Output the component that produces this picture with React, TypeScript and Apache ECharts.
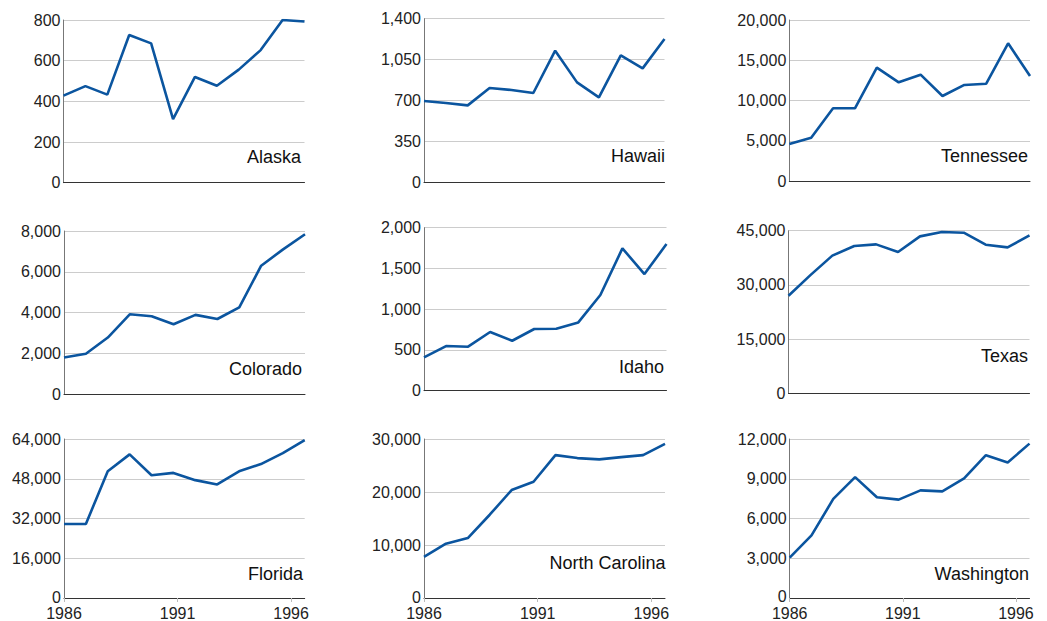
import React, { useEffect, useRef } from 'react';
import * as echarts from 'echarts';

const years = ['1986', '1987', '1988', '1989', '1990', '1991', '1992', '1993', '1994', '1995', '1996', '1997'];
const yearTicks = [1986, 1991, 1996];

const states = ['Alaska', 'Hawaii', 'Tennessee', 'Colorado', 'Idaho', 'Texas', 'Florida', 'North Carolina', 'Washington'];

const alaska = [428, 475, 433, 726, 685, 313, 520, 477, 556, 652, 800, 793];
const hawaii = [694, 677, 657, 806, 789, 763, 1126, 854, 726, 1086, 974, 1226];
const tennessee = [4600, 5380, 9030, 9030, 14080, 12260, 13210, 10560, 11930, 12090, 17100, 13040];
const colorado = [1800, 1990, 2780, 3920, 3820, 3430, 3890, 3690, 4260, 6300, 7100, 7840];
const idaho = [409, 548, 540, 720, 613, 757, 761, 838, 1174, 1746, 1431, 1800];
const texas = [27000, 32700, 38100, 40760, 41220, 39100, 43430, 44630, 44450, 41130, 40390, 43710];
const florida = [29800, 29800, 51000, 57800, 49400, 50350, 47440, 45700, 51000, 53900, 58300, 63500];
const northCarolina = [7760, 10250, 11300, 15710, 20370, 21930, 26960, 26400, 26150, 26580, 26960, 29070];
const washington = [3050, 4725, 7475, 9125, 7600, 7425, 8125, 8050, 9025, 10775, 10225, 11650];

const seriesData = [alaska, hawaii, tennessee, colorado, idaho, texas, florida, northCarolina, washington];
const yMax = [800, 1400, 20000, 8000, 2000, 45000, 64000, 30000, 12000];
const yStep = [200, 350, 5000, 2000, 500, 15000, 16000, 10000, 3000];
const zeroLabel = '0';

// layout (pixels)
const panels = [
  { left: 63.5, top: 20, width: 241, height: 162.7, lx: 301, ly: 157 },
  { left: 424, top: 18.7, width: 240.5, height: 163.3, lx: 665, ly: 156 },
  { left: 789.3, top: 20, width: 240.7, height: 161, lx: 1028, ly: 155.7 },
  { left: 64, top: 231, width: 241, height: 163.3, lx: 302, ly: 369 },
  { left: 424, top: 227.7, width: 242.5, height: 163, lx: 664, ly: 366.7 },
  { left: 788.5, top: 230.7, width: 241, height: 162.6, lx: 1028, ly: 355.7 },
  { left: 64, top: 439, width: 240.7, height: 161, lx: 303, ly: 573.7 },
  { left: 424, top: 439, width: 241, height: 161, lx: 665.5, ly: 563.3 },
  { left: 789.7, top: 439, width: 239.8, height: 160, lx: 1029, ly: 573.7 },
];

const FONT = '"Liberation Sans", Arial, sans-serif';
const LINE_COLOR = '#0b559f';

export default function App() {
  const ref = useRef<HTMLDivElement>(null);

  useEffect(() => {
    if (!ref.current) return;
    const chart = echarts.init(ref.current, undefined, { renderer: 'svg' });

    const grid: any[] = [];
    const xAxis: any[] = [];
    const yAxis: any[] = [];
    const series: any[] = [];
    const graphic: any[] = [];

    panels.forEach((p, i) => {
      const bottomRow = i >= 6;
      grid.push({ left: p.left, top: p.top, width: p.width, height: p.height, containLabel: false });
      xAxis.push({
        type: 'category',
        gridIndex: i,
        data: years,
        boundaryGap: false,
        show: false,
      });
      xAxis.push({
        type: 'value',
        gridIndex: i,
        min: 1986,
        max: 1996.6,
        position: 'bottom',
        axisLine: { show: true, onZero: false, lineStyle: { color: '#333', width: 1 } },
        axisTick: {
          show: bottomRow,
          customValues: yearTicks,
          length: 4,
          lineStyle: { color: '#bbb' },
        },
        axisLabel: {
          show: bottomRow,
          customValues: yearTicks,
          formatter: (v: number) => String(v),
          fontSize: 16,
          lineHeight: 12,
          fontFamily: FONT,
          color: '#222',
          margin: 9,
        },
        splitLine: { show: false },
      });
      yAxis.push({
        type: 'value',
        gridIndex: i,
        min: 0,
        max: yMax[i],
        interval: yStep[i],
        axisLine: { show: true, lineStyle: { color: '#777', width: 1 } },
        axisTick: { show: false },
        axisLabel: {
          showMinLabel: !bottomRow,
          fontSize: 16,
          lineHeight: 12,
          fontFamily: FONT,
          color: '#222',
          margin: 3,
        },
        splitLine: { show: true, lineStyle: { color: '#ccc', width: 1 } },
      });
      series.push({
        type: 'line',
        name: states[i],
        xAxisIndex: i * 2,
        yAxisIndex: i,
        data: seriesData[i],
        showSymbol: false,
        symbol: 'none',
        silent: true,
        lineStyle: { color: LINE_COLOR, width: 2.6 },
        z: 5,
      });
      graphic.push({
        type: 'text',
        x: p.lx,
        y: p.ly,
        style: {
          text: states[i],
          fontSize: 18,
          fontFamily: FONT,
          fill: '#111',
          textAlign: 'right',
          textVerticalAlign: 'middle',
        },
        z: 10,
      });
      if (bottomRow) {
        graphic.push({
          type: 'text',
          x: p.left - 3,
          y: p.top + p.height - 3,
          style: {
            text: zeroLabel,
            fontSize: 16,
            fontFamily: FONT,
            fill: '#222',
            textAlign: 'right',
            textVerticalAlign: 'middle',
          },
          z: 10,
        });
      }
    });

    chart.setOption({
      animation: false,
      backgroundColor: '#fff',
      grid,
      xAxis,
      yAxis,
      series,
      graphic,
    });

    return () => chart.dispose();
  }, []);

  return (
    <div
      ref={ref}
      style={{ position: 'absolute', left: 0, top: 0, width: 1047, height: 621 }}
    />
  );
}
